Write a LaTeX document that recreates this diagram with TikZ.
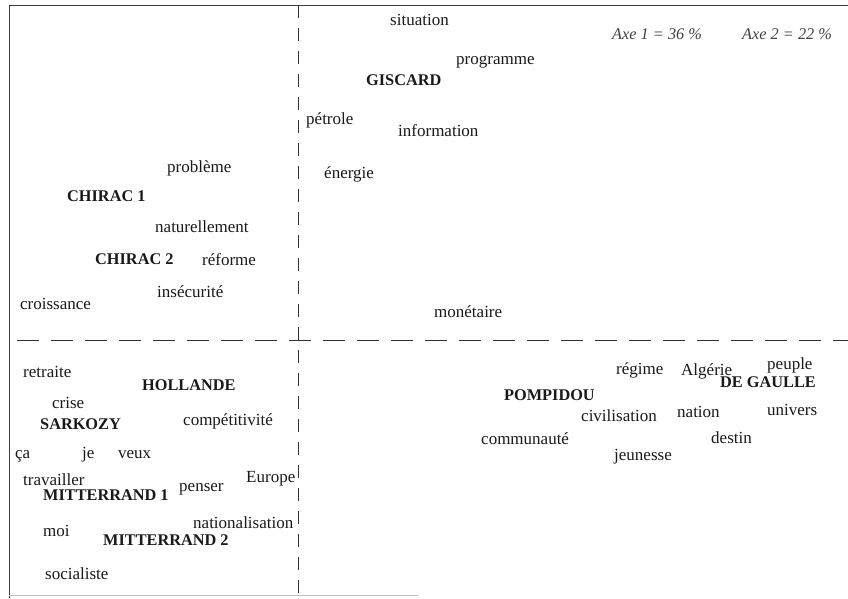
\documentclass[tikz,border=0pt]{standalone}
\usepackage{fontspec}
\setmainfont{Liberation Serif}
\begin{document}
\begin{tikzpicture}[x=1pt,y=-1pt,
  word/.style={anchor=west,inner sep=0pt,text height=0.66em,text depth=0pt,font=\fontsize{17}{19}\selectfont,text=black!90},
  bname/.style={word,font=\fontsize{16.3}{19}\selectfont\bfseries},
  axelbl/.style={word,font=\fontsize{16.3}{19}\selectfont\itshape,text=black!75},
  frameline/.style={draw=black!75,line width=1pt},
  vdash/.style={draw=black!80,line width=1pt,dash pattern=on 13pt off 10pt},
  hdash/.style={draw=black!80,line width=1pt,dash pattern=on 22pt off 12pt}]
\useasboundingbox (0,0) rectangle (848,598);
% frame
\coordinate (tl) at (9,5);
\coordinate (tr) at (848,5);
\coordinate (bl) at (9,598);
\coordinate (bb) at (9,595);
\coordinate (br) at (418,595);
\draw[frameline] (tr) -- (tl) -- (bl);
\draw[draw=black!25,line width=0.8pt] (bb) -- (br);
% axes
\coordinate (vt) at (298,5);
\coordinate (vb) at (298,598);
\coordinate (hl) at (17,340);
\coordinate (hr) at (848,340);
\draw[vdash] (vt) -- (vb);
\draw[hdash] (hl) -- (hr);
% labels
\node[axelbl] (a1) at (612,36) {Axe 1 = 36 \%};
\node[axelbl] (a2) at (742,36) {Axe 2 = 22 \%};
% upper right
\node[word] (situation) at (390,22) {situation};
\node[bname] (giscard) at (366,82) {GISCARD};
\node[word] (programme) at (456,61) {programme};
\node[word] (petrole) at (306,121) {pétrole};
\node[word] (information) at (398,133) {information};
\node[word] (energie) at (324,175) {énergie};
\node[word] (monetaire) at (434,314) {monétaire};
% upper left
\node[word] (probleme) at (167,169) {problème};
\node[bname] (chirac1) at (67,198) {CHIRAC 1};
\node[word] (naturellement) at (155,229) {naturellement};
\node[bname] (chirac2) at (95,261) {CHIRAC 2};
\node[word] (reforme) at (202,262) {réforme};
\node[word] (insecurite) at (157,294) {insécurité};
\node[word] (croissance) at (20,306) {croissance};
% lower left
\node[word] (retraite) at (23,374) {retraite};
\node[bname] (hollande) at (142,387) {HOLLANDE};
\node[word] (crise) at (52,405) {crise};
\node[bname] (sarkozy) at (40,426) {SARKOZY};
\node[word] (competitivite) at (183,422) {compétitivité};
\node[word] (ca) at (15,455) {ça};
\node[word] (je) at (82,455) {je};
\node[word] (veux) at (118,455) {veux};
\node[word] (travailler) at (23,482) {travailler};
\node[bname] (mitterrand1) at (43,497) {MITTERRAND 1};
\node[word] (penser) at (179,488) {penser};
\node[word] (europe) at (246,479) {Europe};
\node[word] (nationalisation) at (193,525) {nationalisation};
\node[word] (moi) at (43,533) {moi};
\node[bname] (mitterrand2) at (103,542) {MITTERRAND 2};
\node[word] (socialiste) at (45,576) {socialiste};
% lower right
\node[word] (regime) at (616,371) {régime};
\node[word] (algerie) at (681,372) {Algérie};
\node[word] (peuple) at (767,366) {peuple};
\node[bname] (degaulle) at (720,384) {DE GAULLE};
\node[bname] (pompidou) at (504,397) {POMPIDOU};
\node[word] (civilisation) at (581,418) {civilisation};
\node[word] (nation) at (677,414) {nation};
\node[word] (univers) at (767,412) {univers};
\node[word] (communaute) at (481,441) {communauté};
\node[word] (destin) at (711,440) {destin};
\node[word] (jeunesse) at (614,457) {jeunesse};
\end{tikzpicture}
\end{document}
